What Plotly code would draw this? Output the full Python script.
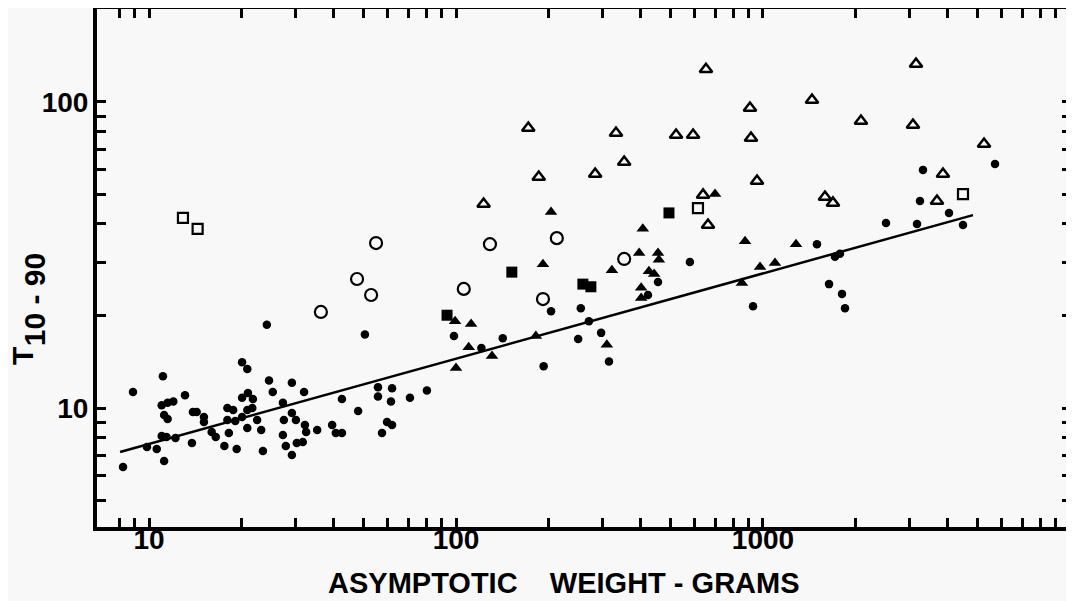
import plotly.graph_objects as go

# T10-90 vs asymptotic weight, log-log

dots_x = [8.23, 8.87, 9.85, 10.6, 11.1, 11.0, 11.5, 12.0, 11.2, 11.5,
          11.0, 11.4, 12.2, 11.2, 13.1, 13.8, 13.9, 14.3, 15.1, 15.1,
          16.0, 16.5, 17.6, 18.0, 18.8, 18.0, 19.1, 18.2, 19.3, 20.1,
          20.1, 20.1, 20.9, 21.0, 20.9, 21.7, 21.8, 20.9, 22.5, 23.2,
          23.5, 24.2, 24.6, 25.3, 27.3, 27.3, 27.5, 27.9, 29.2, 29.2,
          29.2, 30.1, 30.3, 31.7, 32.0, 32.2, 32.5, 35.3, 39.5, 40.6,
          42.5, 42.5, 48.0,
          50.5, 55.7, 61.9, 55.7, 61.4, 70.8, 80.4, 59.6, 61.9, 57.4,
          98.5, 121, 142, 193, 204, 250, 255, 271, 297, 315,
          422, 455, 578, 928, 1499, 1716, 1781, 1641, 1809, 1850,
          2516, 3175, 3246, 3320, 4036, 4482, 5698]
dots_y = [6.42, 11.28, 7.46, 7.35, 12.7, 10.2, 10.4, 10.5, 9.49, 9.2,
          8.1, 8.04, 7.98, 6.71, 11.0, 7.68, 9.7, 9.7, 9.35, 9.0,
          8.35, 8.04, 7.51, 10.0, 9.85, 9.14, 9.07, 8.29, 7.35, 10.8,
          9.35, 14.1, 13.4, 11.2, 9.85, 10.0, 10.7, 8.6, 9.14, 8.48,
          7.24, 18.7, 12.3, 11.28, 10.4, 8.16, 9.14, 7.51, 7.02, 12.1,
          9.63, 9.14, 7.68, 7.74, 11.28, 8.8, 8.35, 8.48, 8.8, 8.29,
          8.29, 10.7, 9.78,
          17.4, 11.7, 11.6, 10.9, 10.5, 10.8, 11.4, 9.0, 8.8, 8.29,
          17.2, 15.7, 16.9, 13.7, 20.7, 16.8, 21.2, 19.2, 17.6, 14.2,
          23.4, 25.8, 30.0, 21.5, 34.3, 31.2, 31.9, 25.4, 23.6, 21.2,
          40.2, 39.9, 47.5, 60.0, 43.4, 39.6, 62.7]

tri_x = [99.3, 112, 110, 131, 100, 182, 192, 204, 310, 322,
         395, 406, 425, 442, 455, 458, 401, 401, 698, 874,
         854, 978, 1094, 1281]
tri_y = [19.2, 18.8, 15.8, 14.8, 13.5, 17.2, 29.5, 43.7, 16.1, 28.2,
         32.1, 38.5, 28.0, 27.4, 32.1, 30.5, 24.7, 22.9, 50.0, 35.1,
         25.6, 28.9, 29.8, 34.3]

otri_x = [123, 172, 186, 284, 332, 353, 521, 592, 638, 652,
          662, 907, 914, 956, 1444, 1592, 1690, 2085, 3080, 3151,
          3688, 3857, 5248]
otri_y = [46.4, 82.2, 56.9, 58.2, 79.2, 63.7, 78.0, 78.0, 49.7, 128,
          39.6, 95.6, 76.3, 55.2, 101.5, 48.9, 46.8, 86.7, 84.1, 133,
          47.5, 58.2, 72.9]

sq_x = [93.5, 152, 259, 275, 494]
sq_y = [20.1, 27.8, 25.4, 24.9, 43.4]

osq_x = [12.9, 14.4, 614, 4482]
osq_y = [41.8, 38.5, 45.0, 50.0]

ocirc_x = [36.3, 47.6, 52.9, 54.9, 106, 129, 192, 213, 353]
ocirc_y = [20.6, 26.4, 23.4, 34.6, 24.5, 34.3, 22.7, 35.9, 30.7]

fit_x = [8.05, 4830]
fit_y = [7.18, 42.7]

x_ticks = [8, 9] + [m * 10 for m in range(1, 10)] + [m * 100 for m in range(1, 10)] \
          + [m * 1000 for m in range(1, 10)]
x_labels = {10: '10', 100: '100', 1000: '1000'}
y_ticks = [5, 6, 7, 8, 9] + [m * 10 for m in range(1, 10)] + [100]
y_labels = {10: '10', 100: '100'}

FONT = 'Liberation Sans'
ink = 'black'

fig = go.Figure()

fig.add_trace(go.Scatter(x=fit_x, y=fit_y, mode='lines',
                         line=dict(color=ink, width=2.5)))
fig.add_trace(go.Scatter(x=dots_x, y=dots_y, mode='markers',
                         marker=dict(symbol='circle', size=8.5, color=ink, line=dict(width=0))))
fig.add_trace(go.Scatter(x=tri_x, y=tri_y, mode='markers',
                         marker=dict(symbol='triangle-up', size=11, color=ink, line=dict(width=0))))
fig.add_trace(go.Scatter(x=sq_x, y=sq_y, mode='markers',
                         marker=dict(symbol='square', size=11, color=ink, line=dict(width=0))))
fig.add_trace(go.Scatter(x=otri_x, y=otri_y, mode='markers',
                         marker=dict(symbol='triangle-up-open', size=11, color=ink,
                                     line=dict(width=2.5, color=ink))))
fig.add_trace(go.Scatter(x=osq_x, y=osq_y, mode='markers',
                         marker=dict(symbol='square-open', size=10, color=ink,
                                     line=dict(width=2.2, color=ink))))
fig.add_trace(go.Scatter(x=ocirc_x, y=ocirc_y, mode='markers',
                         marker=dict(symbol='circle-open', size=12, color=ink,
                                     line=dict(width=2.2, color=ink))))

axis_common = dict(type='log', showgrid=False, zeroline=False, automargin=False,
                   showline=True, linecolor=ink, linewidth=4, mirror='allticks',
                   ticks='inside', ticklen=9, tickwidth=3, tickcolor=ink,
                   tickfont=dict(family=FONT, size=28, color=ink, weight='bold'))

fig.update_xaxes(range=[0.8306, 4.0033], tickvals=x_ticks,
                 ticktext=[x_labels.get(v, '') for v in x_ticks],
                 ticklabelstandoff=-16, **axis_common)
fig.update_yaxes(range=[0.6111, 2.3039], tickvals=y_ticks,
                 ticktext=[y_labels.get(v, '') for v in y_ticks],
                 ticklabelstandoff=-1, **axis_common)

# the page body adds an 8px margin, so the figure is 8px smaller
fig.update_layout(
    width=1066, height=593,
    margin=dict(l=89, r=3, t=1, b=74),
    paper_bgcolor='#f8f8f8', plot_bgcolor='#f8f8f8',
    showlegend=False,
    annotations=[
        dict(text='ASYMPTOTIC&nbsp;&nbsp;&nbsp;&nbsp;WEIGHT - GRAMS', xref='paper', yref='paper',
             x=0.479, y=-0.108, xanchor='center', yanchor='middle', showarrow=False,
             font=dict(family=FONT, size=29, color=ink, weight='bold')),
        dict(text='T', xref='paper', yref='paper', x=-0.0765, y=0.331,
             xanchor='center', yanchor='middle', textangle=-90, showarrow=False,
             height=26, valign='middle',
             font=dict(family=FONT, size=30, color=ink, weight='bold')),
        dict(text='10 - 90', xref='paper', yref='paper', x=-0.0636, y=0.438,
             xanchor='center', yanchor='middle', textangle=-90, showarrow=False,
             height=26, valign='middle',
             font=dict(family=FONT, size=30, color=ink, weight='bold')),
    ],
)

fig.write_html('out.html')
